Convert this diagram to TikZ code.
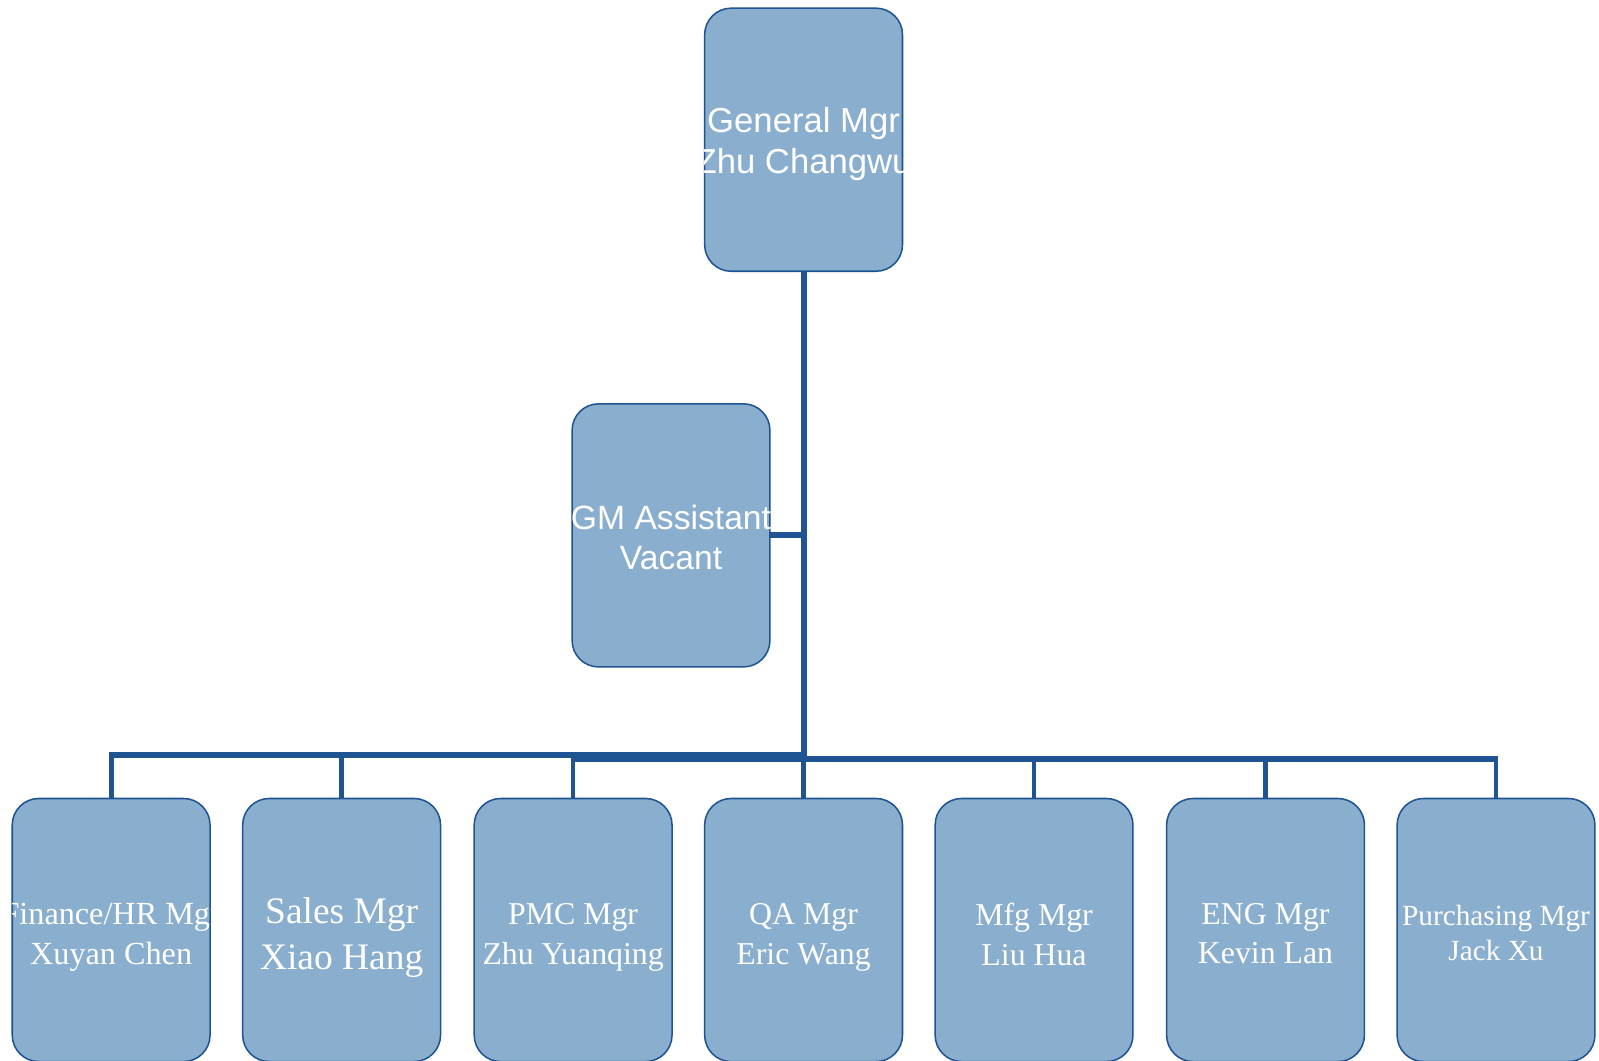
\documentclass[tikz,border=0pt]{standalone}
\usepackage{fontspec}
\setmainfont{Liberation Serif}
\newfontfamily\arialf{Liberation Sans}
\definecolor{lineblue}{HTML}{1F5391}
\definecolor{boxblue}{HTML}{8AAECE}
\tikzset{
  obox/.style={rectangle, minimum width=194pt, minimum height=258pt, rounded corners=26pt,
    draw=lineblue, line width=1.5pt, fill=boxblue, inner sep=0pt},
  ghost/.style={rectangle, minimum width=194pt, minimum height=258pt, inner sep=0pt},
  otext/.style={text=white, align=center, inner sep=0pt},
  trunk/.style={draw=lineblue, line width=6pt},
  drop/.style={draw=lineblue, line width=4.6pt},
}
\newcommand\orgbox[6]{%
  \node[obox] (#1) at (#2,#3) {};
  \begin{scope}
    \clip[rounded corners=26pt] (#1.south west) rectangle (#1.north east);
    \node[otext,font={#4}] (#1-t) at ([yshift=#6]#1.center) {#5};
  \end{scope}}
\begin{document}
\begin{tikzpicture}[x=1pt,y=-1pt]
\useasboundingbox (0,0) rectangle (1568,1040);
% placeholders for connector ends (boxes drawn on top later)
\node[ghost] (gmph) at (788,137) {};
\node[ghost] (asph) at (658,525) {};
\node[ghost] (finph) at (109,912) {};
\node[ghost] (salph) at (335,912) {};
\node[ghost] (pmcph) at (562,912) {};
\node[ghost] (qaph) at (788,912) {};
\node[ghost] (mfgph) at (1014,912) {};
\node[ghost] (engph) at (1241,912) {};
\node[ghost] (purph) at (1467,912) {};
\coordinate (hubL) at (788,740);
\coordinate (hubR) at (788,744);
% trunk and assistant
\draw[trunk] (gmph.south) -- (hubR);
\draw[drop] (gmph.south |- hubR) -- ([yshift=-4pt]qaph.north);
\draw[trunk] (asph.east) -- (asph.east -| gmph.south);
% horizontal bars
\draw[trunk] ([xshift=-2.3pt]hubL -| finph.north) -- (hubL);
\draw[trunk] ([xshift=-2.3pt]hubR -| pmcph.north) -- ([xshift=2.3pt]hubR -| purph.north);
% drops
\draw[drop] ([yshift=-3pt]hubL -| finph.north) -- ([yshift=-4pt]finph.north);
\draw[drop] (hubL -| salph.north) -- (salph.north);
\draw[drop] (hubR -| pmcph.north) -- ([yshift=-4pt]pmcph.north);
\draw[drop] (hubR -| mfgph.north) -- (mfgph.north);
\draw[drop] (hubR -| engph.north) -- (engph.north);
\draw[drop] ([yshift=-3pt]hubR -| purph.north) -- (purph.north);
% boxes
\orgbox{gm}{788}{137}{\arialf\fontsize{34}{40}\selectfont}{General Mgr\\Zhu Changwu}{-4pt}
\orgbox{asst}{658}{525}{\arialf\fontsize{33}{40}\selectfont}{GM Assistant\\Vacant}{-2pt}
\orgbox{fin}{109}{912}{\fontsize{31.6}{39}\selectfont}{Finance/HR Mgr\\Xuyan Chen}{-7pt}
\orgbox{sal}{335}{912}{\fontsize{36.7}{45}\selectfont}{Sales Mgr\\Xiao Hang}{-7pt}
\orgbox{pmc}{562}{912}{\fontsize{31.2}{39}\selectfont}{PMC Mgr\\Zhu Yuanqing}{-7pt}
\orgbox{qa}{788}{912}{\fontsize{31.2}{39}\selectfont}{QA Mgr\\Eric Wang}{-7pt}
\orgbox{mfg}{1014}{912}{\fontsize{31.2}{39}\selectfont}{Mfg Mgr\\Liu Hua}{-4pt}
\orgbox{eng}{1241}{912}{\fontsize{31.2}{39}\selectfont}{ENG Mgr\\Kevin Lan}{-3.5pt}
\orgbox{pur}{1467}{912}{\fontsize{28.7}{34}\selectfont}{Purchasing Mgr\\Jack Xu}{-3pt}
\end{tikzpicture}
\end{document}
